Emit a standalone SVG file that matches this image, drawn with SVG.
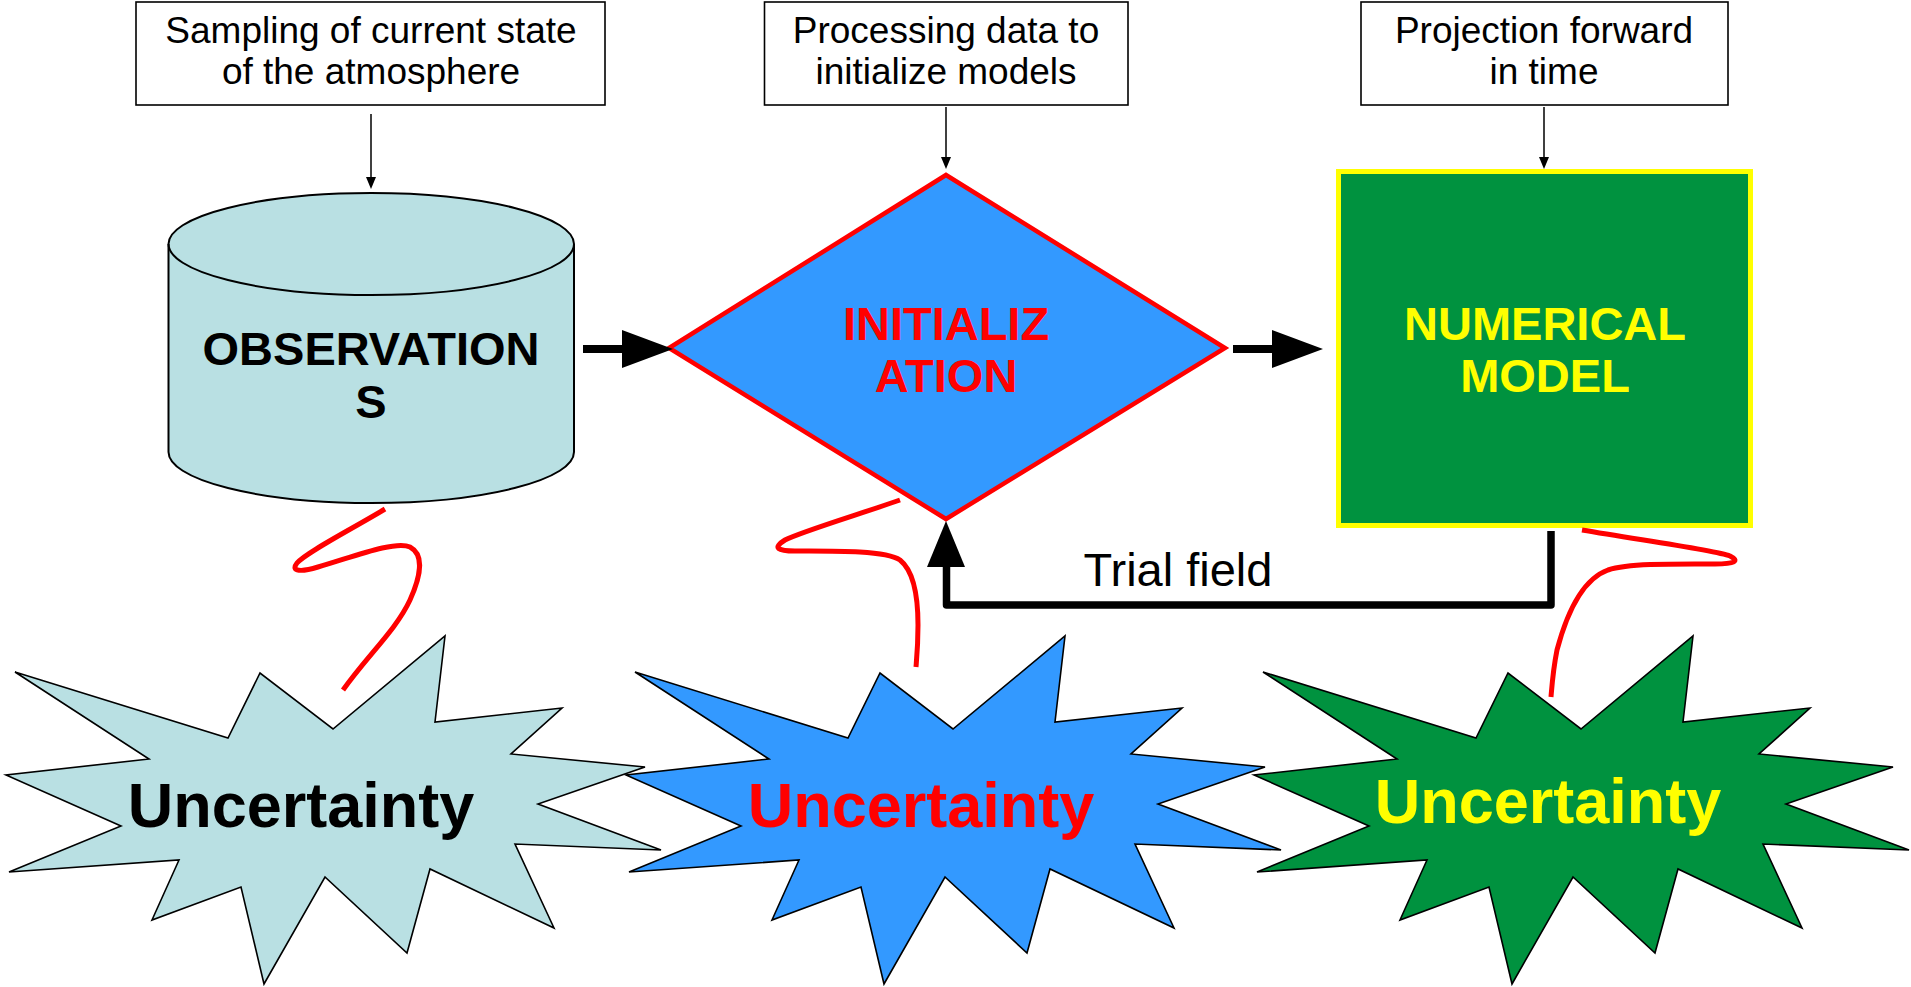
<svg xmlns="http://www.w3.org/2000/svg" width="1911" height="987" viewBox="0 0 1911 987">
<defs>
<style>
.note{fill:#fff;stroke:#000;stroke-width:1.6}
.nt{font-family:"Liberation Sans",Arial,sans-serif;font-size:37px;fill:#000;text-anchor:middle}
.big{font-family:"Liberation Sans",Arial,sans-serif;font-size:47px;font-weight:bold;text-anchor:middle}
.unc{font-family:"Liberation Sans",Arial,sans-serif;font-size:63px;font-weight:bold;text-anchor:middle}
.thin{stroke:#000;stroke-width:1.5;fill:none}
.thick{stroke:#000;stroke-width:8;fill:none}
.sq{stroke:#ff0000;stroke-width:5;fill:none}
.burst{stroke:#000;stroke-width:1.6;stroke-linejoin:miter}
</style>
<marker id="sm" markerUnits="userSpaceOnUse" markerWidth="13" markerHeight="11" refX="0" refY="5" orient="auto"><path d="M0,0 L12,5 L0,10 Z" fill="#000"/></marker>
<marker id="bg" markerUnits="userSpaceOnUse" markerWidth="52" markerHeight="38" refX="0" refY="19" orient="auto"><path d="M0,0 L51,19 L0,38 Z" fill="#000"/></marker>
<polygon id="star" points="15,672 228,738 260,673 333,729 445,636 435,722 562,708 511,754 645,767 538,804 661,850 515,844 554,928 430,869 407,953 325,877 264,984 241,887 152,920 179,860 9,872 121,826 6,775 149,759"/>
</defs>
<rect width="1911" height="987" fill="#fff"/>

<g id="note1">
<rect class="note" x="136" y="2" width="469" height="103"/>
<text class="nt" x="371" y="43">Sampling of current state</text>
<text class="nt" x="371" y="84">of the atmosphere</text>
</g>
<g id="note2">
<rect class="note" x="764.5" y="2" width="363.5" height="103"/>
<text class="nt" x="946" y="43">Processing data to</text>
<text class="nt" x="946" y="84">initialize models</text>
</g>
<g id="note3">
<rect class="note" x="1361" y="2" width="367" height="103"/>
<text class="nt" x="1544" y="43">Projection forward</text>
<text class="nt" x="1544" y="84">in time</text>
</g>

<g id="observations">
<path d="M168.5,244 A202.75,51 0 0 1 574,244 L574,452 A202.75,51 0 0 1 168.5,452 Z" fill="#b9e0e3" stroke="#000" stroke-width="2"/>
<path d="M168.5,244 A202.75,51 0 0 0 574,244" fill="none" stroke="#000" stroke-width="2"/>
<text class="big" x="371" y="365" fill="#000">OBSERVATION</text>
<text class="big" x="371" y="418" fill="#000">S</text>
</g>

<g id="initialization">
<polygon points="946,175 1225,348 946,519 669,348" fill="#3399ff" stroke="#ff0000" stroke-width="4.5" stroke-linejoin="miter"/>
<text class="big" x="946" y="340" fill="#ff0000">INITIALIZ</text>
<text class="big" x="946" y="392" fill="#ff0000">ATION</text>
</g>

<g id="model">
<rect x="1338.5" y="171.5" width="412" height="354" fill="#00923f" stroke="#ffff00" stroke-width="5"/>
<text class="big" x="1545" y="340" fill="#ffff00">NUMERICAL</text>
<text class="big" x="1545" y="392" fill="#ffff00">MODEL</text>
</g>

<g id="uncertainty1">
<use href="#star" fill="#b9e0e3" class="burst"/>
<text class="unc" x="301" y="827" fill="#000">Uncertainty</text>
</g>
<g id="uncertainty2">
<use href="#star" transform="translate(620,0)" fill="#3399ff" class="burst"/>
<text class="unc" x="921" y="827" fill="#ff0000">Uncertainty</text>
</g>
<g id="uncertainty3">
<use href="#star" transform="translate(1248,0)" fill="#00923f" class="burst"/>
<text class="unc" x="1548" y="823" fill="#ffff00">Uncertainty</text>
</g>

<g id="connectors">
<line class="thin" x1="371" y1="114" x2="371" y2="177" marker-end="url(#sm)"/>
<line class="thin" x1="946" y1="107" x2="946" y2="157" marker-end="url(#sm)"/>
<line class="thin" x1="1544" y1="107" x2="1544" y2="157" marker-end="url(#sm)"/>
<line class="thick" x1="583" y1="349" x2="622" y2="349" marker-end="url(#bg)"/>
<line class="thick" x1="1233" y1="349" x2="1272" y2="349" marker-end="url(#bg)"/>
<path d="M1551,531 L1551,605 L946.5,605 L946.5,567" fill="none" stroke="#000" stroke-width="7.5" stroke-linejoin="round"/>
<path d="M946,521 L965,567 L927,567 Z" fill="#000"/>
<text x="1178" y="586" font-family="Liberation Sans, Arial, sans-serif" font-size="47" text-anchor="middle" fill="#000">Trial field</text>
<path class="sq" d="M385,509 C350,530 305,553 297,563 C290,572 302,572 318,567 C350,558 395,540 410,547 C425,555 420,578 410,600 C396,630 368,655 343,690"/>
<path class="sq" d="M900,500 C860,514 800,532 785,540 C772,548 778,551 795,551 C830,551 885,550 900,560 C915,572 918,600 918,625 C918,645 917,655 916,667"/>
<path class="sq" d="M1582,530 C1640,540 1715,550 1730,556 C1740,561 1735,564 1715,564 C1680,564 1630,563 1608,570 C1580,580 1565,620 1557,650 C1553,670 1552,685 1551,697"/>
</g>
</svg>
